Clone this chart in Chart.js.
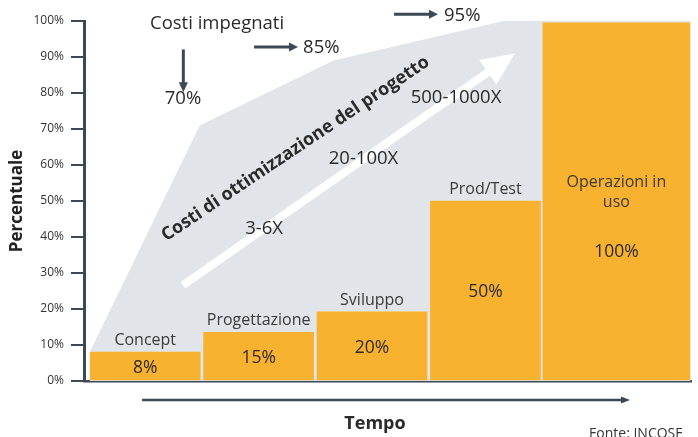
<!DOCTYPE html>
<html>
<head>
<meta charset="utf-8">
<script src="https://cdn.jsdelivr.net/npm/chart.js@4/dist/chart.umd.min.js"></script>
<style>
  html, body { margin: 0; padding: 0; background: #ffffff; }
  #wrap { width: 698px; height: 437px; }
</style>
</head>
<body>
<div id="wrap"><canvas id="c" width="698" height="437"></canvas></div>
<script>
// ---- data ----
const phases = ['Concept', 'Progettazione', 'Sviluppo', 'Prod/Test', 'Operazioni in uso'];
const phaseStart = [0, 1, 2, 3, 4];          // time units
const phaseEnd = [1, 2, 3, 4, 5.31];
const phaseCost = [8, 13.5, 19.2, 50, 99.5]; // % (bar heights as drawn)
const phaseCostLabels = ['8%', '15%', '20%', '50%', '100%'];
const committedX = [0.01, 0.98, 2.16, 3.66, 5.31];  // costs committed curve (time units)
const committedY = [8, 71, 89, 100, 100];           // %
const committedLabels = ['70%', '85%', '95%'];
const multiplierLabels = ['3-6X', '20-100X', '500-1000X'];
const yTickValues = [0, 10, 20, 30, 40, 50, 60, 70, 80, 90, 100];

// ---- styles ----
const FONT = "'Open Sans', 'Noto Sans', sans-serif";
const DARK = '#3a4955';
const ORANGE = '#f8b22f';
const GRAY = '#e1e5e9';
const TEXT = '#2a2a2a';

const centers = phaseStart.map((s, i) => (s + phaseEnd[i]) / 2);
const barPts = phases.map((p, i) => ({ x: centers[i], y: phaseCost[i] }));
const areaPts = committedX.map((x, i) => ({ x: x, y: committedY[i] }));

function arrow(ctx, x1, y1, x2, y2, lw, hl, hw, color) {
  const a = Math.atan2(y2 - y1, x2 - x1);
  const bx = x2 - hl * Math.cos(a), by = y2 - hl * Math.sin(a);
  ctx.strokeStyle = color; ctx.fillStyle = color; ctx.lineWidth = lw; ctx.lineCap = 'butt';
  ctx.beginPath(); ctx.moveTo(x1, y1); ctx.lineTo(bx + Math.cos(a), by + Math.sin(a)); ctx.stroke();
  ctx.beginPath();
  ctx.moveTo(x2, y2);
  ctx.lineTo(bx + hw * Math.sin(a), by - hw * Math.cos(a));
  ctx.lineTo(bx - hw * Math.sin(a), by + hw * Math.cos(a));
  ctx.closePath(); ctx.fill();
}
function text(ctx, s, x, y, size, opts) {
  opts = opts || {};
  ctx.font = (opts.weight || 'normal') + ' ' + size + 'px ' + FONT;
  ctx.fillStyle = opts.color || TEXT;
  ctx.textAlign = opts.align || 'center';
  ctx.textBaseline = 'alphabetic';
  ctx.fillText(s, x, y);
}

const annotations = {
  id: 'annotations',
  afterDraw(chart) {
    const { ctx, scales: { x, y } } = chart;
    const X = u => x.getPixelForValue(u), Y = v => y.getPixelForValue(v);
    ctx.save();

    // big white arrow (optimisation costs growth)
    arrow(ctx, X(0.833), Y(26.6), X(3.76), Y(91.0), 8, 33, 15, '#ffffff');

    // rotated title
    ctx.save();
    ctx.translate(X(1.825), Y(64.5));
    ctx.rotate(-33.8 * Math.PI / 180);
    ctx.font = 'bold 18px ' + FONT;
    ctx.fillStyle = TEXT; ctx.textAlign = 'center'; ctx.textBaseline = 'middle';
    ctx.fillText('Costi di ottimizzazione del progetto', 0, 0);
    ctx.restore();

    // multipliers
    text(ctx, multiplierLabels[0], X(1.548), Y(40.7), 18.5);
    text(ctx, multiplierLabels[1], X(2.425), Y(60.4), 18.5);
    text(ctx, multiplierLabels[2], X(3.241), Y(77.1), 18.5);

    // costs committed annotations
    text(ctx, 'Costi impegnati', X(0.542), Y(97.9), 18.5, { align: 'left' });
    arrow(ctx, X(0.836), Y(92.1), X(0.836), Y(80.2), 3, 10, 4.5, DARK);
    text(ctx, committedLabels[0], X(0.833), Y(77.0), 18.5);
    arrow(ctx, X(1.46), Y(92.8), X(1.847), Y(92.8), 3, 9, 4.5, DARK);
    text(ctx, committedLabels[1], X(1.892), Y(91.1), 18.5, { align: 'left' });
    arrow(ctx, X(2.694), Y(101.9), X(3.082), Y(101.9), 3, 9, 4.5, DARK);
    text(ctx, committedLabels[2], X(3.135), Y(100.0), 18.5, { align: 'left' });

    // bar labels
    const last = phases.length - 1;
    phases.forEach((p, i) => {
      const cx = X(centers[i]);
      if (i < last) {
        text(ctx, p, cx, y.getPixelForValue(phaseCost[i]) - 7, 16, { color: '#3a3a3a' });
        const mid = (Y(0) + Y(phaseCost[i])) / 2;
        text(ctx, phaseCostLabels[i], cx, mid + 6.3, 17.5);
      } else {
        text(ctx, 'Operazioni in', cx, Y(53.9), 16, { color: '#3a3a3a' });
        text(ctx, 'uso', cx, Y(48.4), 16, { color: '#3a3a3a' });
        text(ctx, phaseCostLabels[i], cx, Y(34.5), 17.5);
      }
    });

    // time arrow and labels under the axis
    arrow(ctx, X(0.472), Y(-5.27), X(4.775), Y(-5.27), 2.5, 9, 3.5, DARK);
    text(ctx, 'Tempo', X(2.526), Y(-13.3), 18, { weight: 'bold' });
    text(ctx, 'Fonte: INCOSE', X(4.414), Y(-15.8), 14, { align: 'left', color: '#333' });

    ctx.restore();
  }
};

new Chart(document.getElementById('c'), {
  type: 'bar',
  data: {
    datasets: [
      { type: 'bar', label: 'Costi di fase', data: barPts.slice(0, 4), backgroundColor: ORANGE,
        borderWidth: 0, barThickness: 110, grouped: false, order: 1 },
      { type: 'bar', label: 'Operazioni in uso', data: barPts.slice(4), backgroundColor: ORANGE,
        borderWidth: 0, barThickness: 147, grouped: false, order: 1 },
      { type: 'line', label: 'Costi impegnati', data: areaPts, fill: 'origin', backgroundColor: GRAY,
        borderWidth: 0, borderColor: 'rgba(0,0,0,0)', pointRadius: 0, tension: 0, order: 2 }
    ]
  },
  options: {
    responsive: false,
    animation: false,
    devicePixelRatio: 1,
    layout: { padding: { top: 21, right: 7, left: 0, bottom: 0 } },
    plugins: { legend: { display: false }, tooltip: { enabled: false } },
    scales: {
      x: {
        type: 'linear', min: -0.04, max: 5.313, offset: false, z: 1,
        ticks: { display: false },
        grid: { display: false, drawTicks: false, offset: false },
        border: { display: true, color: DARK, width: 2.5 },
        afterFit(s) { s.height = 56; }
      },
      y: {
        min: 0, max: 100,
        afterBuildTicks(s) { s.ticks = yTickValues.map(v => ({ value: v })); },
        ticks: { callback: v => v + '%', font: { family: FONT, size: 12 }, color: '#333', padding: 7 },
        grid: { drawOnChartArea: false, drawTicks: true, tickLength: 13, color: DARK, lineWidth: 2 },
        border: { display: true, color: DARK, width: 3 },
        title: { display: true, text: 'Percentuale', color: '#222',
                 font: { family: FONT, size: 17, weight: 'bold' }, padding: { top: 7, bottom: 0 } },
        afterFit(s) { s.width = 84; }
      }
    }
  },
  plugins: [annotations]
});
</script>
</body>
</html>
